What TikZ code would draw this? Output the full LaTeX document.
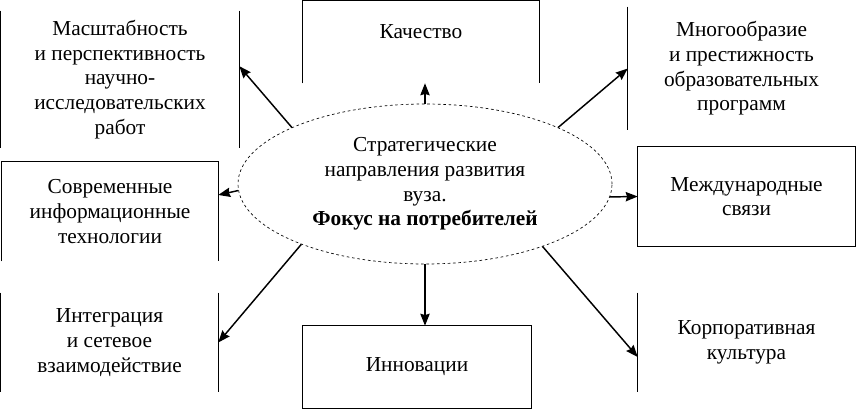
\documentclass[tikz,border=0pt]{standalone}
\usepackage{fontspec}
\setmainfont{Liberation Serif}
\usetikzlibrary{arrows.meta,shapes.geometric}

\begin{document}
\begin{tikzpicture}[x=0.75pt,y=-0.75pt,font=\fontsize{16}{18.5}\selectfont,
  box/.style={align=center,inner sep=0pt},
  side/.style={line width=0.75pt}]
\useasboundingbox (0,0) rectangle (856,410);
\node[ellipse,draw,line width=0.5pt,dash pattern=on 2pt off 2pt,minimum width=280.5pt,minimum height=120pt,align=center,inner sep=0pt]
                     (F) at (425,184)    {Стратегические\\направления развития\\вуза.\\\textbf{Фокус на потребителей}};
  \node[box,minimum width=178.5pt,minimum height=102.75pt]  (M) at (120,79.5)   {Масштабность\\и перспективность\\научно-\\исследовательских\\работ};
  \node[box,minimum width=177pt,text height=28.5pt,text depth=33pt] (K) at (421,42) {Качество};
  \node[box,minimum width=170.25pt,minimum height=92.25pt]  (O) at (741.5,68.5) {Многообразие\\и престижность\\образовательных\\программ};
  \node[box,minimum width=162pt,minimum height=74.25pt]     (S) at (110,211.5)  {Современные\\информационные\\технологии};
  \node[box,minimum width=162.75pt,minimum height=74.25pt]  (D) at (746.5,196.5) {Международные\\связи};
  \node[box,minimum width=162.75pt,minimum height=74.25pt]  (I) at (109.5,342.5) {Интеграция\\и сетевое\\взаимодействие};
  \node[box,minimum width=171pt,minimum height=61.5pt]      (N) at (417,367)    {Инновации};
  \node[box,minimum width=162.75pt,minimum height=74.25pt]  (C) at (746.5,342.5) {Корпоративная\\культура};

  \draw[side] (M.north west) -- (M.south west) (M.north east) -- (M.south east);
  \draw[side] (K.south west) -- (K.north west) -- (K.north east) -- (K.south east);
  \draw[side] (O.north west) -- (O.south west);
  \draw[side] (S.south west) -- (S.north west) -- (S.north east) -- (S.south east);
  \draw[side] (D.north west) rectangle (D.south east);
  \draw[side] (I.north west) -- (I.south west) (I.north east) -- (I.south east);
  \draw[side] (N.north west) rectangle (N.south east);
  \draw[side] (C.north west) -- (C.south west);

  \path[->,>={Stealth[length=9pt,width=7pt,inset=1pt]},line width=1.1pt]
		(F.157)   edge  ([yshift=10pt]M.east)
        (F.north) edge  (F.north |- K.south)
        (F.23)    edge  (O.west)
        (F.182)   edge  ([yshift=12.4pt]S.east)
        (F.-4)    edge  (D.west)
        (F.206)   edge  (I.east)
        (F.south) edge  (F.south |- N.north)
        (F.-28)   edge  ([yshift=-10.9pt]C.west);
\end{tikzpicture}
\end{document}
